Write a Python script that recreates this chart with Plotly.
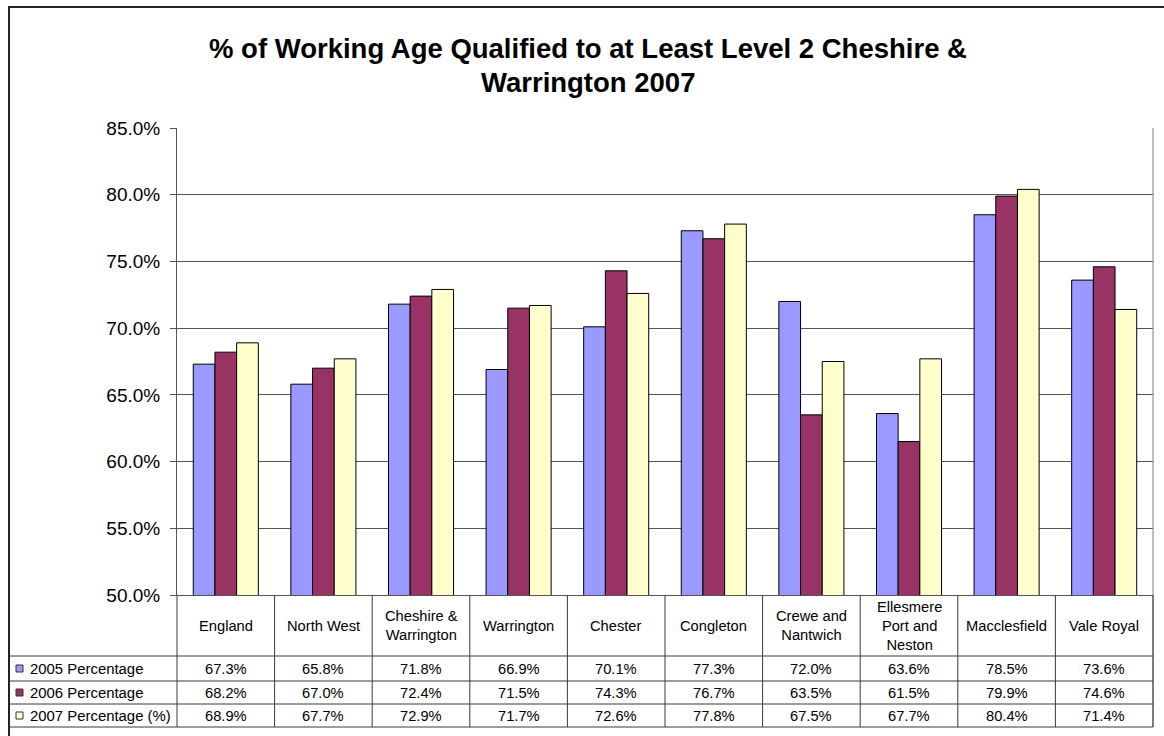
import plotly.graph_objects as go

# Source data
areas = ["England", "North West", "Cheshire &<br>Warrington", "Warrington", "Chester",
         "Congleton", "Crewe and<br>Nantwich", "Ellesmere<br>Port and<br>Neston",
         "Macclesfield", "Vale Royal"]
series_names = ["2005 Percentage", "2006 Percentage", "2007 Percentage (%)"]
pct_2005 = [67.3, 65.8, 71.8, 66.9, 70.1, 77.3, 72.0, 63.6, 78.5, 73.6]
pct_2006 = [68.2, 67.0, 72.4, 71.5, 74.3, 76.7, 63.5, 61.5, 79.9, 74.6]
pct_2007 = [68.9, 67.7, 72.9, 71.7, 72.6, 77.8, 67.5, 67.7, 80.4, 71.4]
y_ticks = [50, 55, 60, 65, 70, 75, 80, 85]

colors = ["#9999FF", "#993366", "#FFFFCC"]
FONT = "Liberation Sans, Arial, sans-serif"

W, H = 1164, 736
L, R, T, B = 177, 1153, 128, 595  # plot area in pixels


def px_x(p):
    return (p - L) / (R - L)


def px_y(p):
    return (B - p) / (B - T)


n = len(areas)
fig = go.Figure()
for name, vals, col in zip(series_names, [pct_2005, pct_2006, pct_2007], colors):
    fig.add_trace(go.Bar(
        x=list(range(n)), y=vals, name=name,
        marker=dict(color=col, line=dict(color="#000000", width=1)),
        showlegend=False,
    ))

shapes = []
annotations = []
line_col = "#3a3a3a"

# outer chart border
shapes.append(dict(type="rect", xref="paper", yref="paper",
                   x0=px_x(9), x1=px_x(1175), y0=px_y(7), y1=px_y(760),
                   line=dict(color="#222222", width=2), layer="above"))

# right edge of plot area
shapes.append(dict(type="line", xref="paper", yref="paper",
                   x0=1, x1=1, y0=px_y(T), y1=px_y(727),
                   line=dict(color="#808080", width=1)))

# table grid: row separators
row_lines = [656, 681, 704, 727]
for ry in row_lines:
    shapes.append(dict(type="line", xref="paper", yref="paper",
                       x0=px_x(10), x1=1, y0=px_y(ry), y1=px_y(ry),
                       line=dict(color=line_col, width=1)))
# column separators
for i in range(n + 1):
    xp = i / n
    shapes.append(dict(type="line", xref="paper", yref="paper",
                       x0=xp, x1=xp, y0=0, y1=px_y(727),
                       line=dict(color=line_col, width=1)))

# header labels
for i, a in enumerate(areas):
    annotations.append(dict(x=(i + 0.5) / n, y=px_y(625.5), xref="paper", yref="paper",
                            text=a, showarrow=False, xanchor="center", yanchor="middle",
                            font=dict(family=FONT, size=14.7, color="#000000")))

# data rows with legend keys
row_centers = [668.5, 692.5, 715.5]
for name, vals, col, cy in zip(series_names, [pct_2005, pct_2006, pct_2007], colors, row_centers):
    shapes.append(dict(type="rect", xref="paper", yref="paper",
                       x0=px_x(16), x1=px_x(23), y0=px_y(cy + 3.5), y1=px_y(cy - 3.5),
                       fillcolor=col, line=dict(color="#333333", width=1)))
    annotations.append(dict(x=px_x(28), y=px_y(cy), xref="paper", yref="paper",
                            text=name, showarrow=False, xanchor="left", yanchor="middle",
                            font=dict(family=FONT, size=14.9, color="#000000")))
    for i, v in enumerate(vals):
        annotations.append(dict(x=(i + 0.5) / n, y=px_y(cy), xref="paper", yref="paper",
                                text=f"{v:.1f}%", showarrow=False, xanchor="center",
                                yanchor="middle",
                                font=dict(family=FONT, size=14.7, color="#000000")))

# title, two lines
title_lines = ["% of Working Age Qualified to at Least Level 2 Cheshire &", "Warrington 2007"]
for txt, cy in zip(title_lines, [48, 83]):
    annotations.append(dict(x=px_x(588), y=px_y(cy), xref="paper", yref="paper",
                            text=f"<b>{txt}</b>", showarrow=False, xanchor="center",
                            yanchor="middle",
                            font=dict(family=FONT, size=27.5, color="#000000")))

fig.update_layout(
    width=W, height=H,
    margin=dict(l=L, r=W - R, t=T, b=H - B, pad=0),
    paper_bgcolor="#FFFFFF", plot_bgcolor="#FFFFFF",
    barmode="group", bargap=1.5 / 4.5, bargroupgap=0,
    shapes=shapes, annotations=annotations,
    font=dict(family=FONT, color="#000000"),
    xaxis=dict(range=[-0.5, n - 0.5], showticklabels=False, showgrid=False,
               zeroline=False, showline=True, linecolor="#555555", linewidth=1,
               ticks=""),
    yaxis=dict(range=[50, 85], tickvals=y_ticks,
               ticktext=[f"{v:.1f}%" for v in y_ticks],
               showgrid=True, gridcolor="#555555", gridwidth=1,
               zeroline=False, showline=True, linecolor="#555555", linewidth=1,
               ticks="outside", ticklen=6, tickcolor="#555555",
               ticklabelstandoff=6,
               tickfont=dict(family=FONT, size=19, color="#000000")),
)

fig.write_html("out.html")
